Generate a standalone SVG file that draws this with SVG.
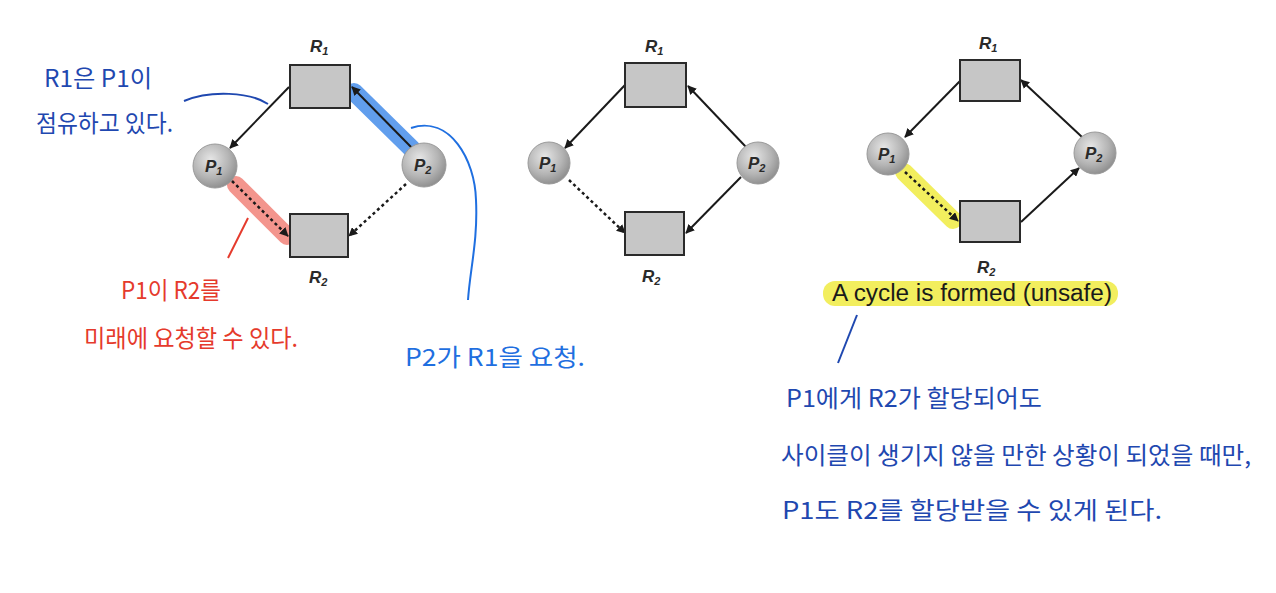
<svg xmlns="http://www.w3.org/2000/svg" width="1276" height="593" viewBox="0 0 1276 593">
<defs>
<radialGradient id="pg" cx="0.4" cy="0.35" r="0.7">
<stop offset="0" stop-color="#e6e6e6"/>
<stop offset="0.6" stop-color="#b4b4b4"/>
<stop offset="1" stop-color="#8a8a8a"/>
</radialGradient>
<marker id="ah" viewBox="0 0 10 10" refX="9" refY="5" markerWidth="9" markerHeight="9" markerUnits="userSpaceOnUse" orient="auto">
<path d="M0,0 L10,5 L0,10 z" fill="#1a1a1a"/>
</marker>
</defs>
<style>
.res{fill:#c6c6c6;stroke:#2a2a2a;stroke-width:2}
.proc{fill:url(#pg);stroke:#9a9a9a;stroke-width:1}
.lbl{font-family:"Liberation Sans",Arial,sans-serif;font-style:italic;font-weight:bold;font-size:17px;fill:#2a2a2a}
.sub{font-size:11px}
.e{stroke:#1a1a1a;stroke-width:2;fill:none;marker-end:url(#ah)}
.d{stroke-dasharray:3 3;stroke-width:2.5}
.hw{font-family:"Noto Sans CJK KR","Noto Sans",sans-serif;font-size:24px}
.blue{fill:#1f48b0}
.lblue{fill:#1f6fe0}
.red{fill:#e53a2c}
</style>
<rect width="1276" height="593" fill="#ffffff"/>

<!-- highlights -->
<g id="highlights">
<line x1="354" y1="92" x2="412" y2="149" stroke="#3a86e8" stroke-opacity="0.8" stroke-width="18" stroke-linecap="round"/>
<line x1="236" y1="185" x2="287" y2="236" stroke="#f07a70" stroke-opacity="0.8" stroke-width="18" stroke-linecap="round"/>
<line x1="904" y1="172" x2="953" y2="220" stroke="#f2ee5e" stroke-width="18" stroke-linecap="round"/>
<rect x="823" y="281" width="295" height="25" rx="12" fill="#f2ee5e"/>
</g>

<!-- connectors -->
<g id="connectors">
<line class="e" x1="289" y1="87" x2="230" y2="148"/>
<line class="e" x1="412" y1="148" x2="352" y2="87"/>
<line class="e d" x1="232" y1="181" x2="288" y2="236"/>
<line class="e d" x1="406" y1="184" x2="349" y2="236"/>

<line class="e" x1="625" y1="85" x2="565" y2="148"/>
<line class="e" x1="746" y1="147" x2="688" y2="86"/>
<line class="e d" x1="569" y1="180" x2="625" y2="233"/>
<line class="e" x1="741" y1="177" x2="686" y2="233"/>

<line class="e" x1="960" y1="81" x2="905" y2="137"/>
<line class="e" x1="1082" y1="137" x2="1021" y2="80"/>
<line class="e d" x1="905" y1="172" x2="958" y2="221"/>
<line class="e" x1="1021" y1="222" x2="1079" y2="168"/>
</g>

<!-- diagram 1 -->
<g id="d1-R1"><rect class="res" x="290" y="65" width="60" height="43"/><text class="lbl" x="310" y="52">R<tspan class="sub" dy="3">1</tspan></text></g>
<g id="d1-R2"><rect class="res" x="290" y="214" width="58" height="43"/><text class="lbl" x="309" y="283">R<tspan class="sub" dy="3">2</tspan></text></g>
<g id="d1-P1"><circle class="proc" cx="215" cy="166" r="22"/><text class="lbl" x="205" y="172">P<tspan class="sub" dy="3">1</tspan></text></g>
<g id="d1-P2"><circle class="proc" cx="424" cy="165" r="22"/><text class="lbl" x="414" y="171">P<tspan class="sub" dy="3">2</tspan></text></g>

<!-- diagram 2 -->
<g id="d2-R1"><rect class="res" x="625" y="63" width="61" height="44"/><text class="lbl" x="645" y="52">R<tspan class="sub" dy="3">1</tspan></text></g>
<g id="d2-R2"><rect class="res" x="625" y="212" width="59" height="43"/><text class="lbl" x="642" y="282">R<tspan class="sub" dy="3">2</tspan></text></g>
<g id="d2-P1"><circle class="proc" cx="549" cy="163" r="21"/><text class="lbl" x="539" y="169">P<tspan class="sub" dy="3">1</tspan></text></g>
<g id="d2-P2"><circle class="proc" cx="758" cy="163" r="21"/><text class="lbl" x="748" y="169">P<tspan class="sub" dy="3">2</tspan></text></g>

<!-- diagram 3 -->
<g id="d3-R1"><rect class="res" x="960" y="60" width="60" height="41"/><text class="lbl" x="979" y="49">R<tspan class="sub" dy="3">1</tspan></text></g>
<g id="d3-R2"><rect class="res" x="960" y="201" width="60" height="41"/><text class="lbl" x="977" y="273">R<tspan class="sub" dy="3">2</tspan></text></g>
<g id="d3-P1"><circle class="proc" cx="888" cy="154" r="21"/><text class="lbl" x="878" y="160">P<tspan class="sub" dy="3">1</tspan></text></g>
<g id="d3-P2"><circle class="proc" cx="1095" cy="153" r="21"/><text class="lbl" x="1085" y="159">P<tspan class="sub" dy="3">2</tspan></text></g>
<g id="d3-caption"><text x="972" y="301" text-anchor="middle" font-family="'Liberation Sans',Arial,sans-serif" font-size="23" fill="#1a1a1a" textLength="280" lengthAdjust="spacingAndGlyphs">A cycle is formed (unsafe)</text></g>

<!-- annotations -->
<g id="annotations">
<path d="M184,101 C210,90 250,92 268,104" fill="none" stroke="#1f48b0" stroke-width="2"/>
<path d="M411,128 C450,115 475,160 476,200 C478,240 470,270 468,300" fill="none" stroke="#1f6fe0" stroke-width="2"/>
<line x1="228" y1="258" x2="248" y2="218" stroke="#e53a2c" stroke-width="2"/>
<line x1="857" y1="315" x2="838" y2="363" stroke="#1f48b0" stroke-width="2"/>

<text class="hw blue" x="44" y="87" textLength="108" lengthAdjust="spacingAndGlyphs">R1은 P1이</text>
<text class="hw blue" x="36" y="132" textLength="137" lengthAdjust="spacingAndGlyphs">점유하고 있다.</text>
<text class="hw red" x="121" y="299" textLength="100" lengthAdjust="spacingAndGlyphs">P1이 R2를</text>
<text class="hw red" x="84" y="347" textLength="214" lengthAdjust="spacingAndGlyphs">미래에 요청할 수 있다.</text>
<text class="hw lblue" x="405" y="366" textLength="180" lengthAdjust="spacingAndGlyphs">P2가 R1을 요청.</text>
<text class="hw blue" x="786" y="407" textLength="256" lengthAdjust="spacingAndGlyphs">P1에게 R2가 할당되어도</text>
<text class="hw blue" x="781" y="464" textLength="470" lengthAdjust="spacingAndGlyphs">사이클이 생기지 않을 만한 상황이 되었을 때만,</text>
<text class="hw blue" x="782" y="519" textLength="380" lengthAdjust="spacingAndGlyphs">P1도 R2를 할당받을 수 있게 된다.</text>
</g>
</svg>
